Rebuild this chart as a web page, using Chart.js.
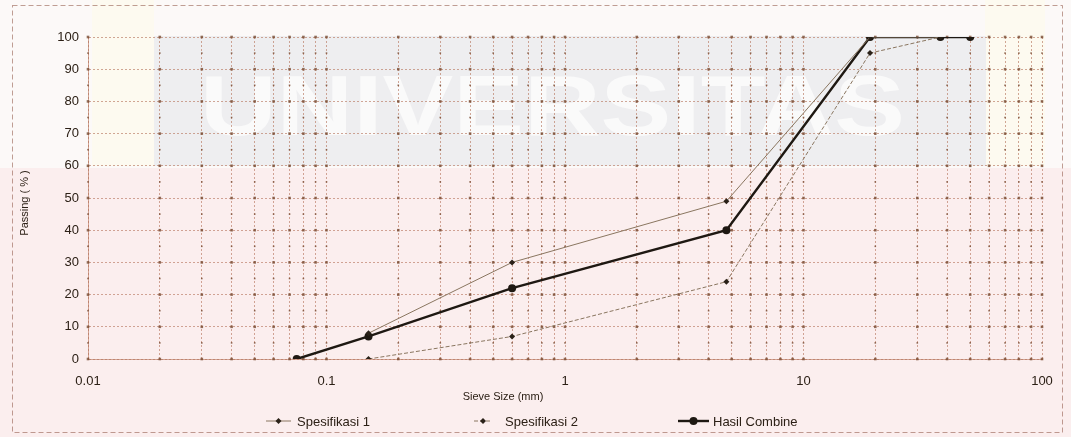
<!DOCTYPE html>
<html>
<head>
<meta charset="utf-8">
<script src="https://cdn.jsdelivr.net/npm/chart.js@4.4.1/dist/chart.umd.min.js"></script>
<style>
  html, body { margin: 0; padding: 0; background: #fcf7f6; }
  canvas { display: block; }
</style>
</head>
<body>
<canvas id="grading" width="1071" height="437"></canvas>
<script>
// Sieve sizes (mm) and percent passing for each curve
const sieveSizes   = [0.075, 0.15, 0.6, 4.75, 19, 37.5, 50];
const spesifikasi1 = [null, 8, 30, 49, 100, 100, null];
const spesifikasi2 = [null, 0, 7, 24, 95, 100, null];
const hasilCombine = [0, 7, 22, 40, 100, 100, 100];

const seriesLabels = ['Spesifikasi 1', 'Spesifikasi 2', 'Hasil Combine'];
const xTickLabels  = ['0.01', '0.1', '1', '10', '100'];
const yTickLabels  = ['0', '10', '20', '30', '40', '50', '60', '70', '80', '90', '100'];
const xTitle = 'Sieve Size (mm)';
const yTitle = 'Passing ( % )';

const INK = '#2c2016';
const GRID = 'rgba(180,115,90,0.62)';
const FONT = "'Liberation Sans', Arial, sans-serif";

function points(values) {
  return sieveSizes
    .map((x, i) => ({ x: x, y: values[i] }))
    .filter(p => p.y !== null);
}

// paper tint behind the chart
const paperPlugin = {
  id: 'paper',
  beforeDraw(chart) {
    const c = chart.ctx;
    c.save();
    c.fillStyle = '#fcf9f8';
    c.fillRect(0, 0, chart.width, chart.height);
    c.fillStyle = '#fbeeee';
    c.fillRect(0, 168, chart.width, chart.height - 168);
    c.fillStyle = '#fdfaf0';
    c.fillRect(92, 0, 62, 166);
    c.fillRect(985, 0, 60, 166);
    c.fillStyle = '#eeeef0';
    c.fillRect(154, 36, 832, 130);
    c.fillStyle = '#fafafa';
    c.font = 'bold 86px ' + FONT;
    c.textBaseline = 'alphabetic';
    const word = 'UNIVERSITAS';
    const w = c.measureText(word).width;
    c.translate(200, 135);
    c.scale(705 / w, 1);
    c.fillText(word, 0, 0);
    c.restore();
  }
};

// dots where the dashed grid lines cross
const gridDotsPlugin = {
  id: 'gridDots',
  beforeDatasetsDraw(chart) {
    const c = chart.ctx, xs = chart.scales.x, ys = chart.scales.y;
    c.save();
    c.fillStyle = 'rgba(120,75,50,0.8)';
    xs.ticks.forEach(t => {
      const px = xs.getPixelForValue(t.value);
      for (let v = 0; v <= 100; v += 5) {
        const py = ys.getPixelForValue(v);
        const r = v % 10 === 0 ? 1.3 : 0.8;
        c.fillRect(px - r, py - r, r * 2, r * 2);
      }
    });
    c.restore();
  }
};

function drawMarker(c, style, x, y, r) {
  c.beginPath();
  if (style === 'rectRot') {
    c.moveTo(x, y - r); c.lineTo(x + r, y); c.lineTo(x, y + r); c.lineTo(x - r, y);
    c.closePath();
  } else {
    c.arc(x, y, r, 0, Math.PI * 2);
  }
  c.fill();
}

// axis titles, legend and the outer frame
const decorPlugin = {
  id: 'decor',
  afterDraw(chart) {
    const c = chart.ctx;
    c.save();
    c.fillStyle = INK;
    c.font = '11px ' + FONT;
    c.textAlign = 'center';
    c.textBaseline = 'middle';
    c.fillText(xTitle, 503, 397);
    c.save();
    c.translate(25, 203);
    c.rotate(-Math.PI / 2);
    c.fillText(yTitle, 0, 0);
    c.restore();

    const legendPos = [
      { x0: 266, x1: 291, tx: 297 },
      { x0: 474, x1: 492, tx: 505 },
      { x0: 678, x1: 709, tx: 713 }
    ];
    chart.data.datasets.forEach((ds, i) => {
      const p = legendPos[i], y = 421;
      c.strokeStyle = ds.borderColor;
      c.lineWidth = ds.borderWidth;
      c.setLineDash(ds.borderDash || []);
      c.beginPath(); c.moveTo(p.x0, y); c.lineTo(p.x1, y); c.stroke();
      c.setLineDash([]);
      c.fillStyle = ds.pointBackgroundColor;
      drawMarker(c, ds.pointStyle, (p.x0 + p.x1) / 2, y, ds.pointRadius);
      c.fillStyle = INK;
      c.font = '13px ' + FONT;
      c.textAlign = 'left';
      c.fillText(ds.label, p.tx, y + 1);
    });

    c.strokeStyle = 'rgba(150,95,80,0.6)';
    c.lineWidth = 1;
    c.setLineDash([5, 3]);
    c.strokeRect(12.5, 5.5, 1050, 427);
    c.restore();
  }
};

new Chart(document.getElementById('grading'), {
  type: 'line',
  data: {
    datasets: [
      {
        label: seriesLabels[0],
        data: points(spesifikasi1),
        borderColor: '#8a7660',
        borderWidth: 1,
        pointStyle: 'rectRot',
        pointRadius: 3,
        pointBackgroundColor: '#2a2118',
        pointBorderWidth: 0,
        tension: 0
      },
      {
        label: seriesLabels[1],
        data: points(spesifikasi2),
        borderColor: '#8a7660',
        borderWidth: 1,
        borderDash: [4, 2],
        pointStyle: 'rectRot',
        pointRadius: 3,
        pointBackgroundColor: '#2a2118',
        pointBorderWidth: 0,
        tension: 0
      },
      {
        label: seriesLabels[2],
        data: points(hasilCombine),
        borderColor: '#1e1812',
        borderWidth: 2.4,
        pointStyle: 'circle',
        pointRadius: 4,
        pointBackgroundColor: '#1e1812',
        pointBorderWidth: 0,
        tension: 0
      }
    ]
  },
  options: {
    responsive: false,
    animation: false,
    devicePixelRatio: 1,
    layout: { padding: { top: 37, right: 29, left: 0, bottom: 0 } },
    plugins: { legend: { display: false }, tooltip: { enabled: false } },
    scales: {
      x: {
        type: 'logarithmic',
        min: 0.01,
        max: 100,
        afterBuildTicks(scale) {
          const ticks = [];
          xTickLabels.forEach((lab, d) => {
            const base = parseFloat(lab);
            const last = d === xTickLabels.length - 1;
            for (let m = 1; m <= (last ? 1 : 9); m++) ticks.push({ value: +(base * m).toPrecision(6) });
          });
          scale.ticks = ticks;
        },
        afterFit(scale) { scale.height = 78; },
        ticks: {
          autoSkip: false,
          maxRotation: 0,
          padding: 15,
          color: INK,
          font: { family: FONT, size: 13 },
          callback(value) {
            const hit = xTickLabels.find(l => Math.abs(parseFloat(l) - value) < value * 1e-6);
            return hit || '';
          }
        },
        grid: { color: GRID, lineWidth: 1, drawTicks: false },
        border: { display: true, color: GRID, dash: [2, 2] }
      },
      y: {
        min: 0,
        max: 100,
        afterBuildTicks(scale) {
          scale.ticks = yTickLabels.map(l => ({ value: parseFloat(l) }));
        },
        afterFit(scale) { scale.width = 88; },
        ticks: {
          padding: 9,
          color: INK,
          font: { family: FONT, size: 13 },
          callback(value) { return yTickLabels[value / 10]; }
        },
        grid: { color: GRID, lineWidth: 1, drawTicks: false },
        border: { display: true, color: GRID, dash: [2, 2] }
      }
    }
  },
  plugins: [paperPlugin, gridDotsPlugin, decorPlugin]
});
</script>
</body>
</html>
